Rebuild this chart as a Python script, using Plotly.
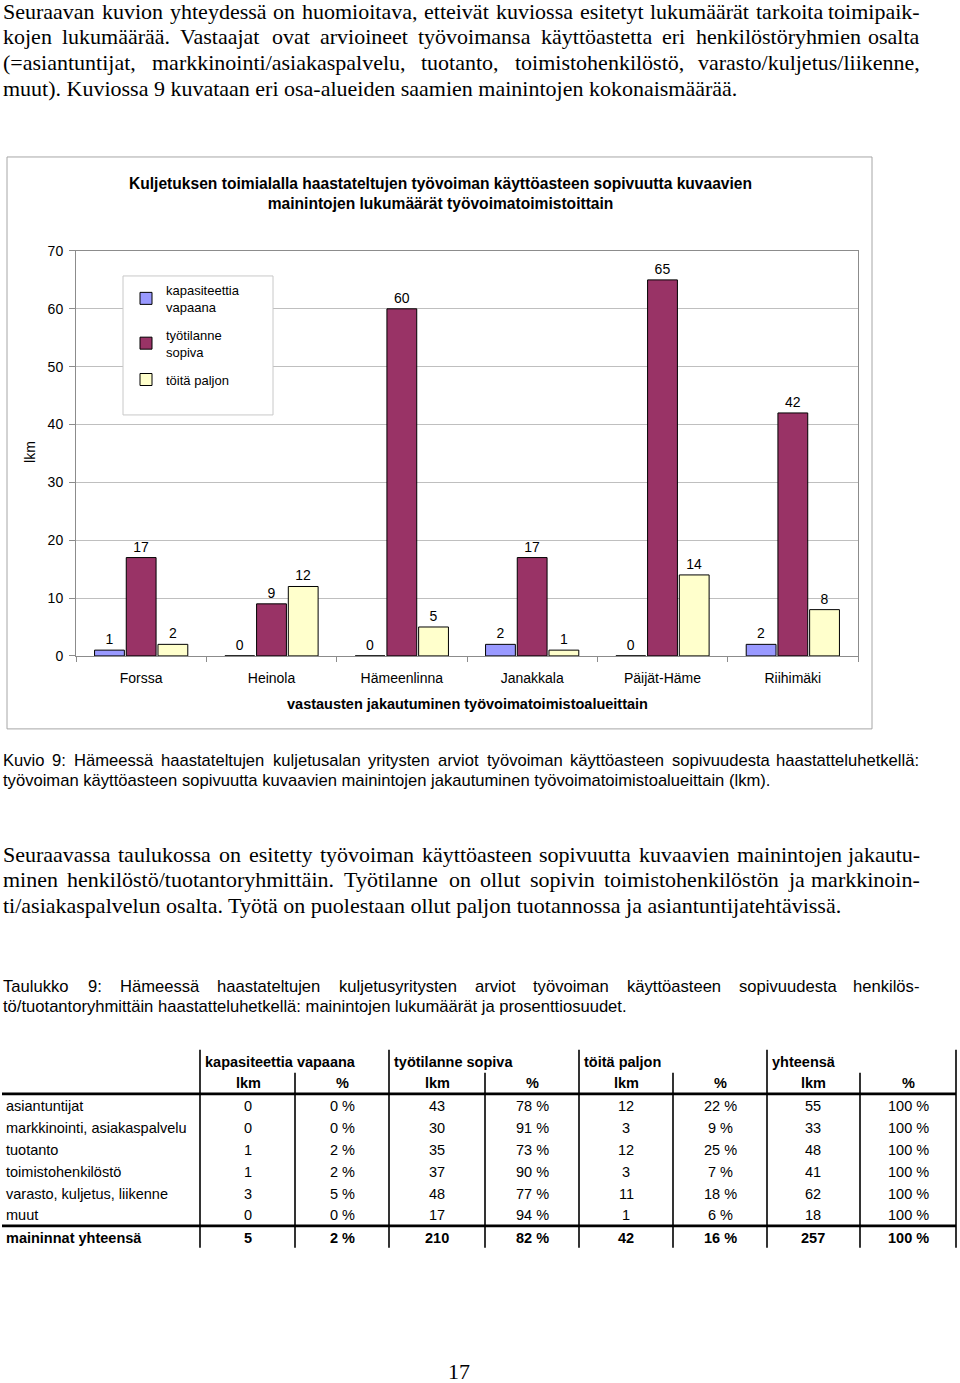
import plotly.graph_objects as go

W, H = 960, 1383
# the photographed page shows the figure shifted down 8 px and scaled by 1383/1399 vertically;
# positions below are given in reference pixels and converted accordingly
Y_OFF, Y_SCALE = 8.0, 1383 / 1399


def px(x):
    return x / W


def py(y):
    return 1 - ((y - Y_OFF) / Y_SCALE) / H


# ---------------- chart data ----------------
categories = ["Forssa", "Heinola", "Hämeenlinna", "Janakkala", "Päijät-Häme", "Riihimäki"]
kapasiteettia_vapaana = [1, 0, 0, 2, 0, 2]
tyotilanne_sopiva = [17, 9, 60, 17, 65, 42]
toita_paljon = [2, 12, 5, 1, 14, 8]
series_names = ["kapasiteettia<br>vapaana", "työtilanne<br>sopiva", "töitä paljon"]
y_tick_values = [0, 10, 20, 30, 40, 50, 60, 70]

# ---------------- table data ----------------
table_rows = ["asiantuntijat", "markkinointi, asiakaspalvelu", "tuotanto",
              "toimistohenkilöstö", "varasto, kuljetus, liikenne", "muut"]
kap_lkm = [0, 0, 1, 1, 3, 0]
kap_pct = [0, 0, 2, 2, 5, 0]
sop_lkm = [43, 30, 35, 37, 48, 17]
sop_pct = [78, 91, 73, 90, 77, 94]
pal_lkm = [12, 3, 12, 3, 11, 1]
pal_pct = [22, 9, 25, 7, 18, 6]
yht_lkm = [55, 33, 48, 41, 62, 18]
yht_pct = [100, 100, 100, 100, 100, 100]
total_label = "maininnat yhteensä"
total_values = [5, 2, 210, 82, 42, 16, 257, 100]
group_headers = ["kapasiteettia vapaana", "työtilanne sopiva", "töitä paljon", "yhteensä"]

SERIF = "Liberation Serif"
SANS = "Liberation Sans"

# approximate glyph widths (per 1000 em) for justification
ARIAL = dict(zip(" ()-,./:=%", [278, 333, 333, 333, 278, 278, 278, 278, 584, 889]))
ARIAL.update({d: 556 for d in "0123456789"})
ARIAL.update(dict(zip("ABCDEFGHIJKLMNOPQRSTUVWXYZ",
                      [667, 667, 722, 722, 667, 611, 778, 722, 278, 500, 667, 556, 833, 722, 778, 667, 778, 722, 667, 611, 722, 667, 944, 667, 667, 611])))
ARIAL.update(dict(zip("abcdefghijklmnopqrstuvwxyz",
                      [556, 556, 500, 556, 556, 278, 556, 556, 222, 222, 500, 222, 833, 556, 556, 556, 556, 333, 500, 278, 556, 500, 722, 500, 500, 500])))
ARIAL.update({"ä": 556, "ö": 556, "å": 556})
TIMES = dict(zip(" ()-,./:=%", [250, 333, 333, 333, 250, 250, 278, 278, 564, 833]))
TIMES.update({d: 500 for d in "0123456789"})
TIMES.update(dict(zip("ABCDEFGHIJKLMNOPQRSTUVWXYZ",
                      [722, 667, 667, 722, 611, 556, 722, 722, 333, 389, 722, 611, 889, 722, 722, 556, 722, 667, 556, 611, 722, 722, 944, 722, 722, 611])))
TIMES.update(dict(zip("abcdefghijklmnopqrstuvwxyz",
                      [444, 500, 444, 500, 444, 333, 500, 500, 278, 278, 500, 278, 778, 500, 500, 500, 500, 333, 389, 278, 500, 500, 722, 500, 500, 444])))
TIMES.update({"ä": 444, "ö": 500, "å": 444})

annotations = []
shapes = []


def tw(s, table, size):
    return sum(table.get(c, 500) for c in s) / 1000 * size


def ann(text, x, y, family, size, xanchor="left", bold=False, color="black", textangle=0):
    if bold:
        text = "<b>" + text + "</b>"
    annotations.append(dict(text=text, x=px(x), y=py(y), xref="paper", yref="paper",
                            xanchor=xanchor, yanchor="middle", showarrow=False,
                            textangle=textangle, borderpad=0,
                            font=dict(family=family, size=size, color=color)))


def line_text(text, y, family, table, size, left=2, right=None):
    if right is None:
        ann(text, left, y, family, size)
        return
    words = text.split()
    widths = [tw(w, table, size) for w in words]
    gap = (right - left - sum(widths)) / (len(words) - 1)
    x = left
    for i, w in enumerate(words):
        if i == len(words) - 1:
            ann(w, right, y, family, size, xanchor="right")
        else:
            ann(w, x, y, family, size)
        x += widths[i] + gap


# ---------------- body text ----------------
TS = 22
line_text("Seuraavan kuvion yhteydessä on huomioitava, etteivät kuviossa esitetyt lukumäärät tarkoita toimipaik-",
          12, SERIF, TIMES, TS, right=921)
line_text("kojen lukumäärää. Vastaajat ovat arvioineet työvoimansa käyttöastetta eri henkilöstöryhmien osalta",
          37, SERIF, TIMES, TS, right=921)
line_text("(=asiantuntijat, markkinointi/asiakaspalvelu, tuotanto, toimistohenkilöstö, varasto/kuljetus/liikenne,",
          63, SERIF, TIMES, TS, right=921)
line_text("muut). Kuviossa 9 kuvataan eri osa-alueiden saamien mainintojen kokonaismäärää.",
          89, SERIF, TIMES, TS)

AS = 16.6
line_text("Kuvio 9: Hämeessä haastateltujen kuljetusalan yritysten arviot työvoiman käyttöasteen sopivuudesta haastatteluhetkellä:",
          761, SANS, ARIAL, AS, right=920)
line_text("työvoiman käyttöasteen sopivuutta kuvaavien mainintojen jakautuminen työvoimatoimistoalueittain (lkm).",
          781, SANS, ARIAL, AS)

line_text("Seuraavassa taulukossa on esitetty työvoiman käyttöasteen sopivuutta kuvaavien mainintojen jakautu-",
          855, SERIF, TIMES, TS, right=921)
line_text("minen henkilöstö/tuotantoryhmittäin. Työtilanne on ollut sopivin toimistohenkilöstön ja markkinoin-",
          880, SERIF, TIMES, TS, right=921)
line_text("ti/asiakaspalvelun osalta. Työtä on puolestaan ollut paljon tuotannossa ja asiantuntijatehtävissä.",
          906, SERIF, TIMES, TS)

line_text("Taulukko 9: Hämeessä haastateltujen kuljetusyritysten arviot työvoiman käyttöasteen sopivuudesta henkilös-",
          987, SANS, ARIAL, AS, right=920)
line_text("tö/tuotantoryhmittäin haastatteluhetkellä: mainintojen lukumäärät ja prosenttiosuudet.",
          1007, SANS, ARIAL, AS)

ann("17", 459, 1372, SERIF, 22, xanchor="center")

# ---------------- chart frame & titles ----------------
shapes.append(dict(type="rect", xref="paper", yref="paper", x0=px(7), x1=px(872), y0=py(157), y1=py(729),
                   line=dict(color="#a6a6a6", width=1), layer="below"))
shapes.append(dict(type="rect", xref="paper", yref="paper", x0=px(123), x1=px(273), y0=py(276), y1=py(415),
                   line=dict(color="#c8c8c8", width=1), fillcolor="white", layer="above"))
annotations.append(dict(
    text="<b>Kuljetuksen toimialalla haastateltujen työvoiman käyttöasteen sopivuutta kuvaavien<br>mainintojen lukumäärät työvoimatoimistoittain</b>",
    x=px(440), y=py(193.5), xref="paper", yref="paper", xanchor="center", yanchor="middle",
    showarrow=False, align="center", font=dict(family=SANS, size=15.6, color="black")))
annotations.append(dict(text="<b>vastausten jakautuminen työvoimatoimistoalueittain</b>",
                        x=px(467), y=py(704), xref="paper", yref="paper", xanchor="center", yanchor="middle",
                        showarrow=False, font=dict(family=SANS, size=14.5, color="black")))
annotations.append(dict(text="lkm", x=px(30), y=py(452), xref="paper", yref="paper", xanchor="center",
                        yanchor="middle", textangle=-90, showarrow=False,
                        font=dict(family=SANS, size=14, color="black")))

# ---------------- table ----------------
TF = 14.5
col_centers = [248, 342, 437, 532, 626, 720, 813, 908]
group_left = [200, 389, 579, 767]
for g, hdr in enumerate(group_headers):
    ann(hdr, group_left[g] + 4, 1062, SANS, TF, bold=True)
for i, c in enumerate(col_centers):
    ann("lkm" if i % 2 == 0 else "%", c, 1083, SANS, TF, xanchor="center", bold=True)
row_y = [1106, 1128, 1150, 1172, 1194, 1215]
for r, name in enumerate(table_rows):
    ann(name, 5, row_y[r], SANS, TF)
    vals = [kap_lkm[r], f"{kap_pct[r]} %", sop_lkm[r], f"{sop_pct[r]} %",
            pal_lkm[r], f"{pal_pct[r]} %", yht_lkm[r], f"{yht_pct[r]} %"]
    for i, v in enumerate(vals):
        ann(str(v), col_centers[i], row_y[r], SANS, TF, xanchor="center")
ann(total_label, 5, 1238, SANS, TF, bold=True)
for i, v in enumerate(total_values):
    ann(f"{v} %" if i % 2 == 1 else str(v), col_centers[i], 1238, SANS, TF, xanchor="center", bold=True)

for x in group_left + [956]:
    shapes.append(dict(type="line", xref="paper", yref="paper", x0=px(x), x1=px(x), y0=py(1050), y1=py(1248),
                       line=dict(color="black", width=1.6)))
for x in [295, 485, 673, 860]:
    shapes.append(dict(type="line", xref="paper", yref="paper", x0=px(x), x1=px(x), y0=py(1073), y1=py(1248),
                       line=dict(color="black", width=1.6)))
for y in [1094, 1226]:
    shapes.append(dict(type="line", xref="paper", yref="paper", x0=px(2), x1=px(956), y0=py(y), y1=py(y),
                       line=dict(color="black", width=2.6)))

# ---------------- bars ----------------
fig = go.Figure()
series = [kapasiteettia_vapaana, tyotilanne_sopiva, toita_paljon]
colors = ["#9999FF", "#993366", "#FFFFCC"]
for k, (name, vals, col) in enumerate(zip(series_names, series, colors)):
    fig.add_trace(go.Bar(
        x=categories, y=vals, name=name, text=[str(v) for v in vals],
        legendgroup=f"g{k}",
        textposition="outside", cliponaxis=False,
        textfont=dict(family=SANS, size=14, color="black"),
        marker=dict(color=col, line=dict(color="black", width=1)),
    ))

fig.update_layout(
    width=W, height=H,
    margin=dict(l=0, r=0, t=0, b=0),
    paper_bgcolor="white", plot_bgcolor="white",
    barmode="group", bargap=0.27, bargroupgap=0.06,
    showlegend=True,
    legend=dict(x=px(126), y=py(275), xanchor="left", yanchor="top",
                bgcolor="rgba(0,0,0,0)", borderwidth=0,
                font=dict(family=SANS, size=13, color="black"), tracegroupgap=8),
    xaxis=dict(domain=[px(76), px(858)], anchor="y", showline=True, mirror=True, linecolor="#8c8c8c",
               ticks="outside", tickson="boundaries", ticklen=5, tickcolor="#8c8c8c",
               ticklabelstandoff=9,
               tickfont=dict(family=SANS, size=14, color="black"), showgrid=False),
    yaxis=dict(domain=[py(656), py(251)], range=[0, 70], tickvals=y_tick_values,
               showline=True, mirror=True, linecolor="#8c8c8c", ticks="outside", ticklen=6,
               ticklabelstandoff=3,
               tickcolor="#8c8c8c", showgrid=True, gridcolor="#bfbfbf", zeroline=False,
               tickfont=dict(family=SANS, size=14, color="black")),
    annotations=annotations,
    shapes=shapes,
    font=dict(family=SANS),
)

post = ("document.documentElement.style.margin='0px';"
        "document.body.style.margin='0px';document.body.style.padding='0px';")
fig.write_html("out.html", config={"displayModeBar": False}, post_script=post)
